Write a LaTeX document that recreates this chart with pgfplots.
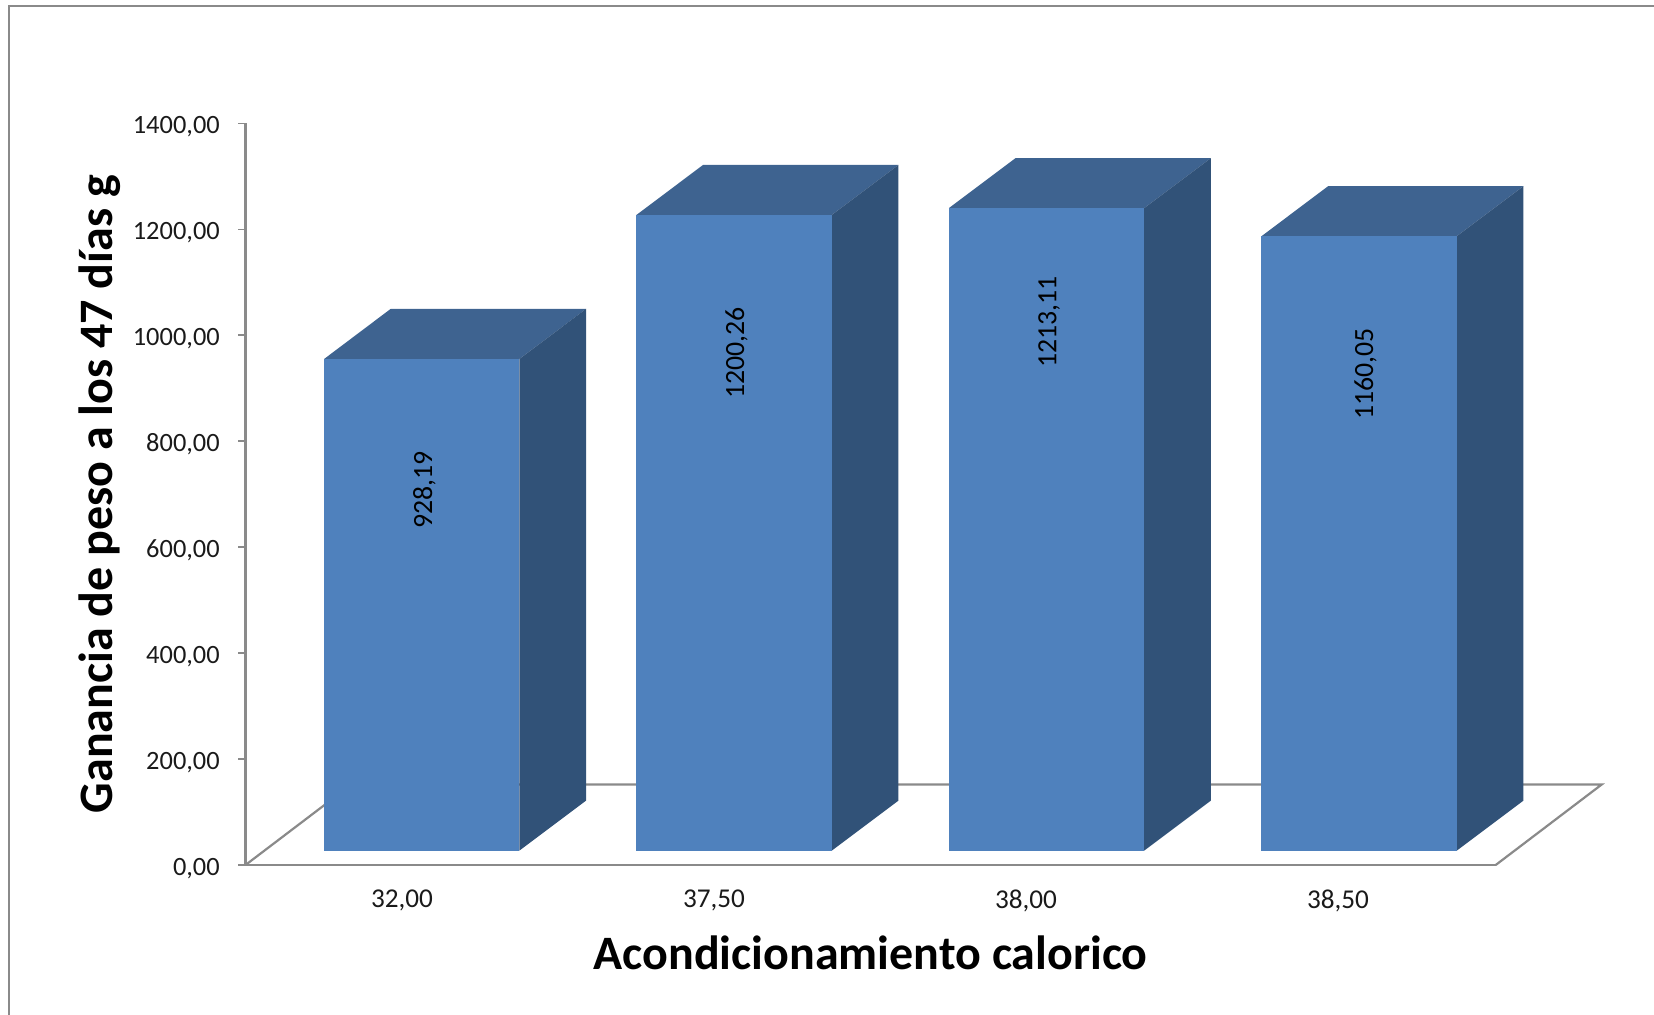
\documentclass[border=0pt]{standalone}
\usepackage{fontspec}
\setmainfont{Carlito}
\usepackage{pgfplots}
\pgfplotsset{compat=1.18}
\definecolor{barfront}{HTML}{4F81BD}
\definecolor{bartop}{HTML}{3E6390}
\definecolor{barside}{HTML}{315278}
\definecolor{axisgrey}{HTML}{8A8A8A}
\definecolor{inktext}{HTML}{1A1A1A}
\begin{document}
\begin{tikzpicture}
% Page extent; one drawing unit of 0.5pt stands for one pixel of the finished image
\path[use as bounding box] (0,0) rectangle (827pt,507.5pt);
\draw[axisgrey,line width=1.2pt] (827pt,504.5pt) -- (4.6pt,504.5pt) -- (4.6pt,0pt);
\begin{axis}[
  at={(122.75pt,75pt)}, anchor=south west,
  scale only axis, width=625.1pt, height=370.75pt,
  xmin=245.5, xmax=1495.7, ymin=0, ymax=1400,
  clip=false,
  axis lines=left,
  axis line style={-, draw=axisgrey, line width=1.1pt},
  tick style={draw=axisgrey, line width=0.9pt},
  tick align=outside,
  major tick length=3.75pt,
  x tick style={draw=none},
  xtick={402,714,1026,1338},
  xticklabels={{32,00},{37,50},{38,00},{38,50}},
  ytick={0,200,400,600,800,1000,1200,1400},
  /pgf/number format/assume math mode=true,
  yticklabel style={
    /pgf/number format/fixed,
    /pgf/number format/fixed zerofill,
    /pgf/number format/precision=2,
    /pgf/number format/use comma,
    /pgf/number format/1000 sep={},
    font=\fontsize{13.2}{15}\selectfont, text=inktext, yshift=-1.6pt, xshift=-5.6pt},
  xticklabel style={font=\fontsize{13.6}{15}\selectfont, text=inktext, yshift=-5pt},
  xlabel={Acondicionamiento calorico},
  ylabel={Ganancia de peso a los 47 días g},
  xlabel style={font=\fontsize{24}{28}\bfseries\selectfont, text=black, yshift=-5pt},
  ylabel style={font=\fontsize{24}{28}\bfseries\selectfont, text=black, yshift=-0.5pt},
  barface/.style={draw=none, forget plot, y filter/.expression={y+27}},
]
% Floor of the 3-D plot
\addplot[axisgrey, line width=1.1pt, forget plot] coordinates {(245.5,0) (351.5,152) (1601.7,152) (1495.7,0)};

% First bar: 928.19
\addplot[barface, fill=bartop] coordinates {(324,928.19) (519.3,928.19) (586,1023) (390.7,1023)} --cycle;
\addplot[barface, fill=barside] coordinates {(519.3,0) (586,94.5) (586,1023) (519.3,928.19)} --cycle;
\addplot[barface, fill=barfront] coordinates {(324,0) (519.3,0) (519.3,928.19) (324,928.19)} --cycle;

% Second bar: 1200.26
\addplot[barface, fill=bartop] coordinates {(636.4,1200.26) (831.7,1200.26) (898.4,1294.8) (703.1,1294.8)} --cycle;
\addplot[barface, fill=barside] coordinates {(831.7,0) (898.4,94.5) (898.4,1294.8) (831.7,1200.26)} --cycle;
\addplot[barface, fill=barfront] coordinates {(636.4,0) (831.7,0) (831.7,1200.26) (636.4,1200.26)} --cycle;

% Third bar: 1213.11
\addplot[barface, fill=bartop] coordinates {(948.8,1213.11) (1144.1,1213.11) (1210.8,1307.6) (1015.5,1307.6)} --cycle;
\addplot[barface, fill=barside] coordinates {(1144.1,0) (1210.8,94.5) (1210.8,1307.6) (1144.1,1213.11)} --cycle;
\addplot[barface, fill=barfront] coordinates {(948.8,0) (1144.1,0) (1144.1,1213.11) (948.8,1213.11)} --cycle;

% Fourth bar: 1160.05
\addplot[barface, fill=bartop] coordinates {(1261.4,1160.05) (1456.7,1160.05) (1523.4,1254.6) (1328.1,1254.6)} --cycle;
\addplot[barface, fill=barside] coordinates {(1456.7,0) (1523.4,94.5) (1523.4,1254.6) (1456.7,1160.05)} --cycle;
\addplot[barface, fill=barfront] coordinates {(1261.4,0) (1456.7,0) (1456.7,1160.05) (1261.4,1160.05)} --cycle;

% Value labels set upright along each front face
\foreach \px/\py/\txt in {424.5/708/{928,19}, 736.5/967/{1200,26}, 1049/1025/{1213,11}, 1365.5/927/{1160,05}} {
  \edef\placelabel{\noexpand\node[rotate=90, font=\noexpand\fontsize{13.9}{15}\noexpand\selectfont, text=black] at (axis cs:\px,\py) {\txt};}
  \placelabel
}
\end{axis}
\end{tikzpicture}
\end{document}
